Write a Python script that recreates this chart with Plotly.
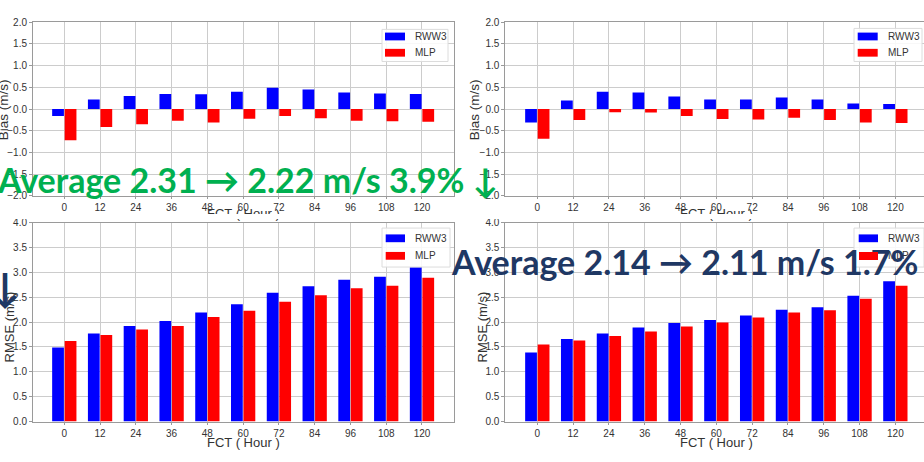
import plotly.graph_objects as go

W, H = 924, 462

# Forecast lead times (hours)
hours = [0, 12, 24, 36, 48, 60, 72, 84, 96, 108, 120]
hour_labels = [str(h) for h in hours]

# Bias (m/s) – left column
bias_rww3_a = [-0.16, 0.22, 0.30, 0.35, 0.34, 0.40, 0.49, 0.45, 0.38, 0.36, 0.35]
bias_mlp_a = [-0.72, -0.41, -0.35, -0.27, -0.31, -0.22, -0.16, -0.21, -0.27, -0.28, -0.29]
# Bias (m/s) – right column
bias_rww3_b = [-0.31, 0.20, 0.40, 0.38, 0.29, 0.22, 0.22, 0.27, 0.22, 0.13, 0.12]
bias_mlp_b = [-0.68, -0.25, -0.07, -0.08, -0.16, -0.23, -0.24, -0.20, -0.25, -0.31, -0.32]
# RMSE (m/s) – left column
rmse_rww3_a = [1.49, 1.77, 1.92, 2.02, 2.19, 2.36, 2.59, 2.72, 2.85, 2.91, 3.10]
rmse_mlp_a = [1.62, 1.74, 1.85, 1.92, 2.10, 2.23, 2.41, 2.54, 2.68, 2.73, 2.89]
# RMSE (m/s) – right column
rmse_rww3_b = [1.39, 1.66, 1.77, 1.89, 1.98, 2.04, 2.13, 2.25, 2.30, 2.53, 2.82]
rmse_mlp_b = [1.55, 1.63, 1.72, 1.81, 1.91, 1.99, 2.09, 2.19, 2.24, 2.47, 2.73]

series_names = ["RWW3", "MLP"]
bias_ticks = [-2.0, -1.5, -1.0, -0.5, 0.0, 0.5, 1.0, 1.5, 2.0]
rmse_ticks = [0.0, 0.5, 1.0, 1.5, 2.0, 2.5, 3.0, 3.5, 4.0]

summary_left = "Average 2.31 → 2.22 m/s 3.9% ↓"
summary_right = "Average 2.14 → 2.11 m/s 1.7%"

BLUE = "#0000FF"
RED = "#FF0000"
GREEN = "#00B050"
NAVY = "#1F3864"
FRAME = "#9a9a9a"
GRID = "#cccccc"
TXT = "#333333"
TICKFONT = dict(family="Liberation Sans, Arial, sans-serif", size=10, color=TXT)
TITLEFONT = dict(family="Liberation Sans, Arial, sans-serif", size=13, color=TXT)


def px(x):
    return x / W


def py(y):
    return 1 - y / H


def fmt(v):
    s = f"{abs(v):.1f}"
    return ("\u2212" + s) if v < 0 else s


fig = go.Figure()

panels = [
    ("x", "y", bias_rww3_a, bias_mlp_a),
    ("x2", "y2", bias_rww3_b, bias_mlp_b),
    ("x3", "y3", rmse_rww3_a, rmse_mlp_a),
    ("x4", "y4", rmse_rww3_b, rmse_mlp_b),
]
for xa, ya, rww3, mlp in panels:
    for name, vals, col in zip(series_names, [rww3, mlp], [BLUE, RED]):
        fig.add_trace(go.Bar(
            x=hour_labels, y=vals, name=name, xaxis=xa, yaxis=ya,
            marker=dict(color=col, line=dict(width=0)), showlegend=False,
        ))

left_dom = [px(33), px(454)]
right_dom = [px(505.3), 1.0]
top_dom = [py(195), py(16.7)]
bot_dom = [py(426.7), py(222.3)]


def xaxis(dom, anchor, rng):
    return dict(domain=dom, anchor=anchor, type="category", range=rng,
                showline=True, linecolor=FRAME, linewidth=1, mirror=True,
                showgrid=True, gridcolor=GRID, gridwidth=1, zeroline=False,
                ticks="outside", ticklen=2, tickcolor=FRAME, tickfont=TICKFONT)


def yaxis(dom, anchor, rng, tv, mirror):
    return dict(domain=dom, anchor=anchor, range=rng, tickvals=tv,
                ticktext=[fmt(v) for v in tv],
                showline=True, linecolor=FRAME, linewidth=1, mirror=mirror,
                showgrid=True, gridcolor=GRID, gridwidth=1, zeroline=False,
                ticks="outside", ticklen=3, tickcolor=FRAME, tickfont=TICKFONT)


left_rng = [-0.875, 10.895]
right_rng = [-0.894, 10.80]

fig.update_layout(
    width=W, height=H, autosize=False,
    margin=dict(l=0, r=0, t=0, b=0, pad=0),
    paper_bgcolor="white", plot_bgcolor="white",
    barmode="group", bargap=0.3, bargroupgap=0.06,
    showlegend=False,
    xaxis=xaxis(left_dom, "y", left_rng),
    yaxis=yaxis(top_dom, "x", [-2, 2], bias_ticks, True),
    xaxis2=xaxis(right_dom, "y2", right_rng),
    yaxis2=yaxis(top_dom, "x2", [-2, 2], bias_ticks, False),
    xaxis3=xaxis(left_dom, "y3", left_rng),
    yaxis3=yaxis(bot_dom, "x3", [0, 4], rmse_ticks, True),
    xaxis4=xaxis(right_dom, "y4", right_rng),
    yaxis4=yaxis(bot_dom, "x4", [0, 4], rmse_ticks, False),
)

shapes = []
annotations = []

# Axis titles
for x, y in [(3, 107), (474, 107)]:
    annotations.append(dict(text="Bias (m/s)", x=px(x), y=py(y), xref="paper", yref="paper",
                            textangle=-90, showarrow=False,
                            font=dict(TITLEFONT, size=13.5),
                            xanchor="center", yanchor="middle"))
for x, y in [(9, 330), (482, 330)]:
    annotations.append(dict(text="RMSE (m/s)", x=px(x), y=py(y), xref="paper", yref="paper",
                            textangle=-90, showarrow=False, font=TITLEFONT,
                            xanchor="center", yanchor="middle"))
for x, y in [(243, 212.6), (716, 212.6), (243, 448), (716, 448)]:
    annotations.append(dict(text="FCT ( Hour )", x=px(x), y=py(y), xref="paper", yref="paper",
                            showarrow=False, font=TITLEFONT, xanchor="center", yanchor="middle"))

# strip that trims the upper row's x titles where the lower row begins
annotations.append(dict(text=" ", x=0.5, y=py(215.7), xref="paper", yref="paper",
                        showarrow=False, width=W, height=4.8, bgcolor="white",
                        borderpad=0, borderwidth=0, font=dict(size=1),
                        xanchor="center", yanchor="middle"))

# Legends (box, colour patches, labels)
legends = [
    # box x0, x1, y0, y1, patch x0, x1, row centres, label x
    (382, 448, 24, 57, 385, 405, (31.3, 48), 413),
    (854, 922, 23, 57, 857.7, 877.7, (31.3, 48), 886),
    (382, 450, 228, 268, 385.7, 405, (238.5, 256.5), 413),
    (854, 924, 228, 268, 858.7, 878, (238.5, 256.5), 886),
]
for i, (bx0, bx1, by0, by1, p0, p1, rows, lx) in enumerate(legends):
    shapes.append(dict(type="rect", xref="paper", yref="paper",
                       x0=px(bx0), x1=px(bx1), y0=py(by1), y1=py(by0),
                       fillcolor="rgba(255,255,255,0.85)", line=dict(color="#dcdcdc", width=1),
                       layer="above"))
    for j, (name, col) in enumerate(zip(series_names, [BLUE, RED])):
        yc = rows[j]
        if not (i == 3 and j == 1):
            shapes.append(dict(type="rect", xref="paper", yref="paper",
                               x0=px(p0), x1=px(p1), y0=py(yc + 4), y1=py(yc - 4),
                               fillcolor=col, line=dict(width=0), layer="above"))
        annotations.append(dict(text=name, x=px(lx), y=py(yc), xref="paper", yref="paper",
                                showarrow=False, xanchor="left", yanchor="middle",
                                font=dict(family="Liberation Sans, Arial, sans-serif",
                                          size=10, color=TXT)))

BIG = dict(family="Lato, Open Sans, sans-serif", size=34, weight=700)
annotations.append(dict(text=summary_left, x=px(-5), y=py(178), xref="paper", yref="paper",
                        showarrow=False, xanchor="left", yanchor="middle",
                        font=dict(**BIG, color=GREEN)))
annotations.append(dict(text=summary_right, x=px(449), y=py(262), xref="paper", yref="paper",
                        showarrow=False, xanchor="left", yanchor="middle",
                        font=dict(**BIG, color=NAVY)))
annotations.append(dict(text="↓", x=px(5), y=py(288), xref="paper", yref="paper",
                        showarrow=False, xanchor="center", yanchor="middle",
                        font=dict(family="Lato, Open Sans, sans-serif", size=40, weight=700,
                                  color=NAVY)))

# MLP patch of the lower-right legend sits over the summary text
p0, p1 = legends[3][4], legends[3][5]
yc = legends[3][6][1]
annotations.append(dict(text=" ", x=px((p0 + p1) / 2), y=py(yc), xref="paper", yref="paper",
                        showarrow=False, width=p1 - p0, height=8, bgcolor=RED,
                        borderpad=0, borderwidth=0, font=dict(size=1),
                        xanchor="center", yanchor="middle"))

fig.update_layout(shapes=shapes, annotations=annotations)
fig.write_html("out.html")
